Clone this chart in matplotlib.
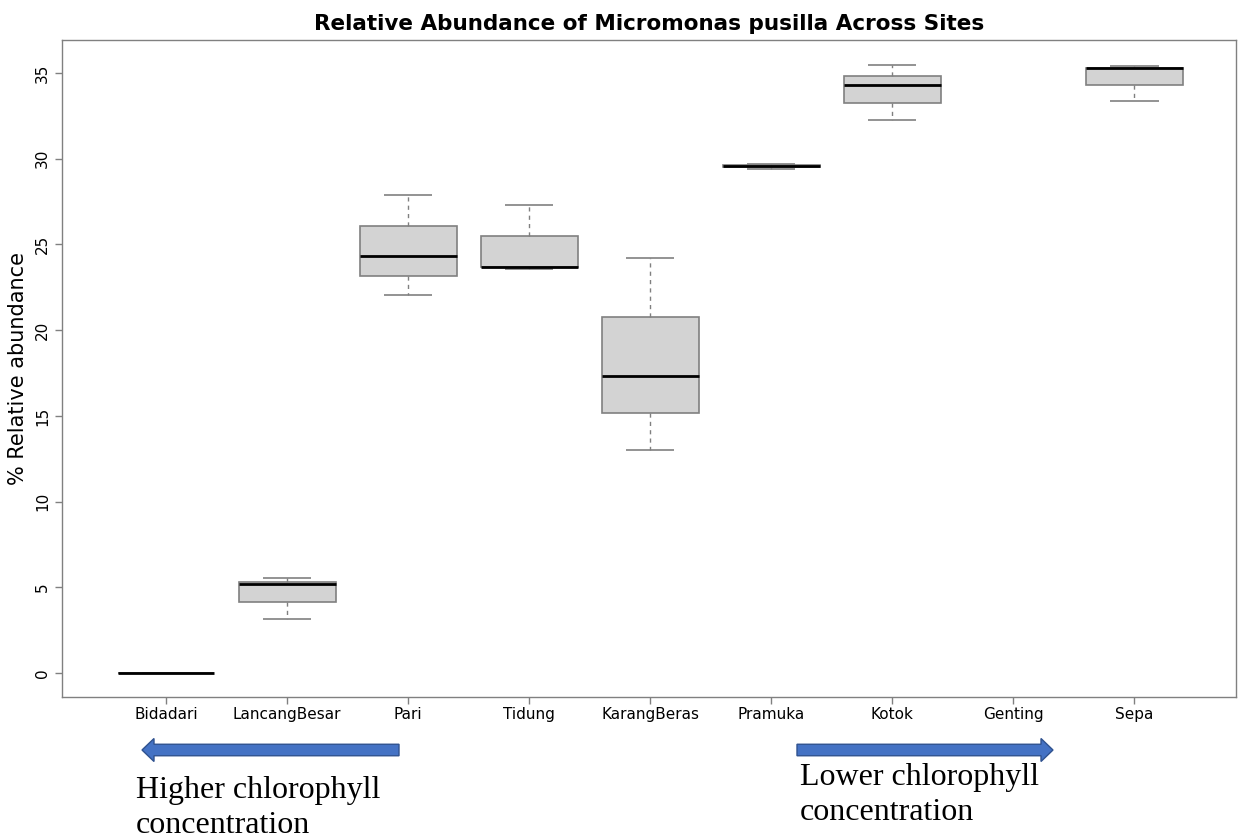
import matplotlib
matplotlib.use("Agg")
import matplotlib.pyplot as plt
from matplotlib.patches import FancyArrow

sites = ["Bidadari", "LancangBesar", "Pari", "Tidung", "KarangBeras",
         "Pramuka", "Kotok", "Genting", "Sepa"]
# five-number summaries (None = no data)
whislo = [0.0, 3.17, 22.07, 23.59, 13.01, 29.40, 32.24, None, 33.37]
q1     = [0.0, 4.16, 23.18, 23.68, 15.17, 29.50, 33.27, None, 34.30]
med    = [0.0, 5.21, 24.31, 23.68, 17.33, 29.60, 34.30, None, 35.27]
q3     = [0.0, 5.33, 26.08, 25.49, 20.77, 29.63, 34.82, None, 35.27]
whishi = [0.0, 5.52, 27.87, 27.32, 24.23, 29.70, 35.47, None, 35.39]
yticks = [0, 5, 10, 15, 20, 25, 30, 35]

W, H = 1238, 839
fig = plt.figure(figsize=(W / 100, H / 100), dpi=100)
ax = fig.add_axes([62 / W, 1 - 697 / H, (1236 - 62) / W, (697 - 40) / H])

sans = ['DejaVu Sans']
plt.rcParams['font.family'] = sans

stats, positions = [], []
for i, s in enumerate(sites):
    if med[i] is None:
        continue
    stats.append(dict(label=s, whislo=whislo[i], q1=q1[i], med=med[i],
                      q3=q3[i], whishi=whishi[i], fliers=[]))
    positions.append(i + 1)

ax.bxp(stats, positions=positions, widths=0.8, patch_artist=True,
       showfliers=False,
       boxprops=dict(facecolor="#D3D3D3", edgecolor="#808080", linewidth=1.2),
       medianprops=dict(color="black", linewidth=2),
       whiskerprops=dict(color="#808080", linestyle=(0, (3, 3)), linewidth=1),
       capprops=dict(color="#808080", linewidth=1.2, solid_capstyle="butt"),
       capwidths=0.4)

ax.set_xlim(0.14, 9.84)
ax.set_ylim(-1.4, 36.93)
ax.set_xticks(range(1, len(sites) + 1))
ax.set_xticklabels(sites, fontsize=11, family=sans)
ax.set_yticks(yticks)
ax.set_yticklabels([str(t) for t in yticks], rotation=90, va="center",
                   fontsize=11, family=sans)
for sp in ax.spines.values():
    sp.set_color("#808080")
    sp.set_linewidth(1)
ax.tick_params(axis="both", colors="#808080", labelcolor="black", length=5, width=1)
ax.tick_params(axis="x", pad=2)
ax.set_ylabel("% Relative abundance", fontsize=15, labelpad=5, family=sans)
ax.set_title("Relative Abundance of Micromonas pusilla Across Sites",
             fontsize=15.5, fontweight="bold", pad=7, family=sans)

tr = fig.dpi_scale_trans
def px(x, y):
    return x / 100, (H - y) / 100

# arrows
for x0, x1 in [(399, 142), (797, 1053)]:
    xa, ya = px(x0, 750)
    xb, _ = px(x1, 750)
    arr = FancyArrow(xa, ya, xb - xa, 0, width=0.115, head_width=0.23,
                     head_length=0.12, length_includes_head=True,
                     transform=tr, facecolor="#4472C4", edgecolor="#2F528F",
                     linewidth=1)
    fig.patches.append(arr)

serif = ['Liberation Serif', 'DejaVu Serif']
for x, y, s in [(136, 798, "Higher chlorophyll"), (136, 833, "concentration"),
                (800, 785, "Lower chlorophyll"), (800, 820, "concentration")]:
    xx, yy = px(x, y)
    fig.text(xx, yy, s, transform=tr, fontsize=23, family=serif,
             ha="left", va="baseline")

fig.savefig("out.png", dpi=100)
